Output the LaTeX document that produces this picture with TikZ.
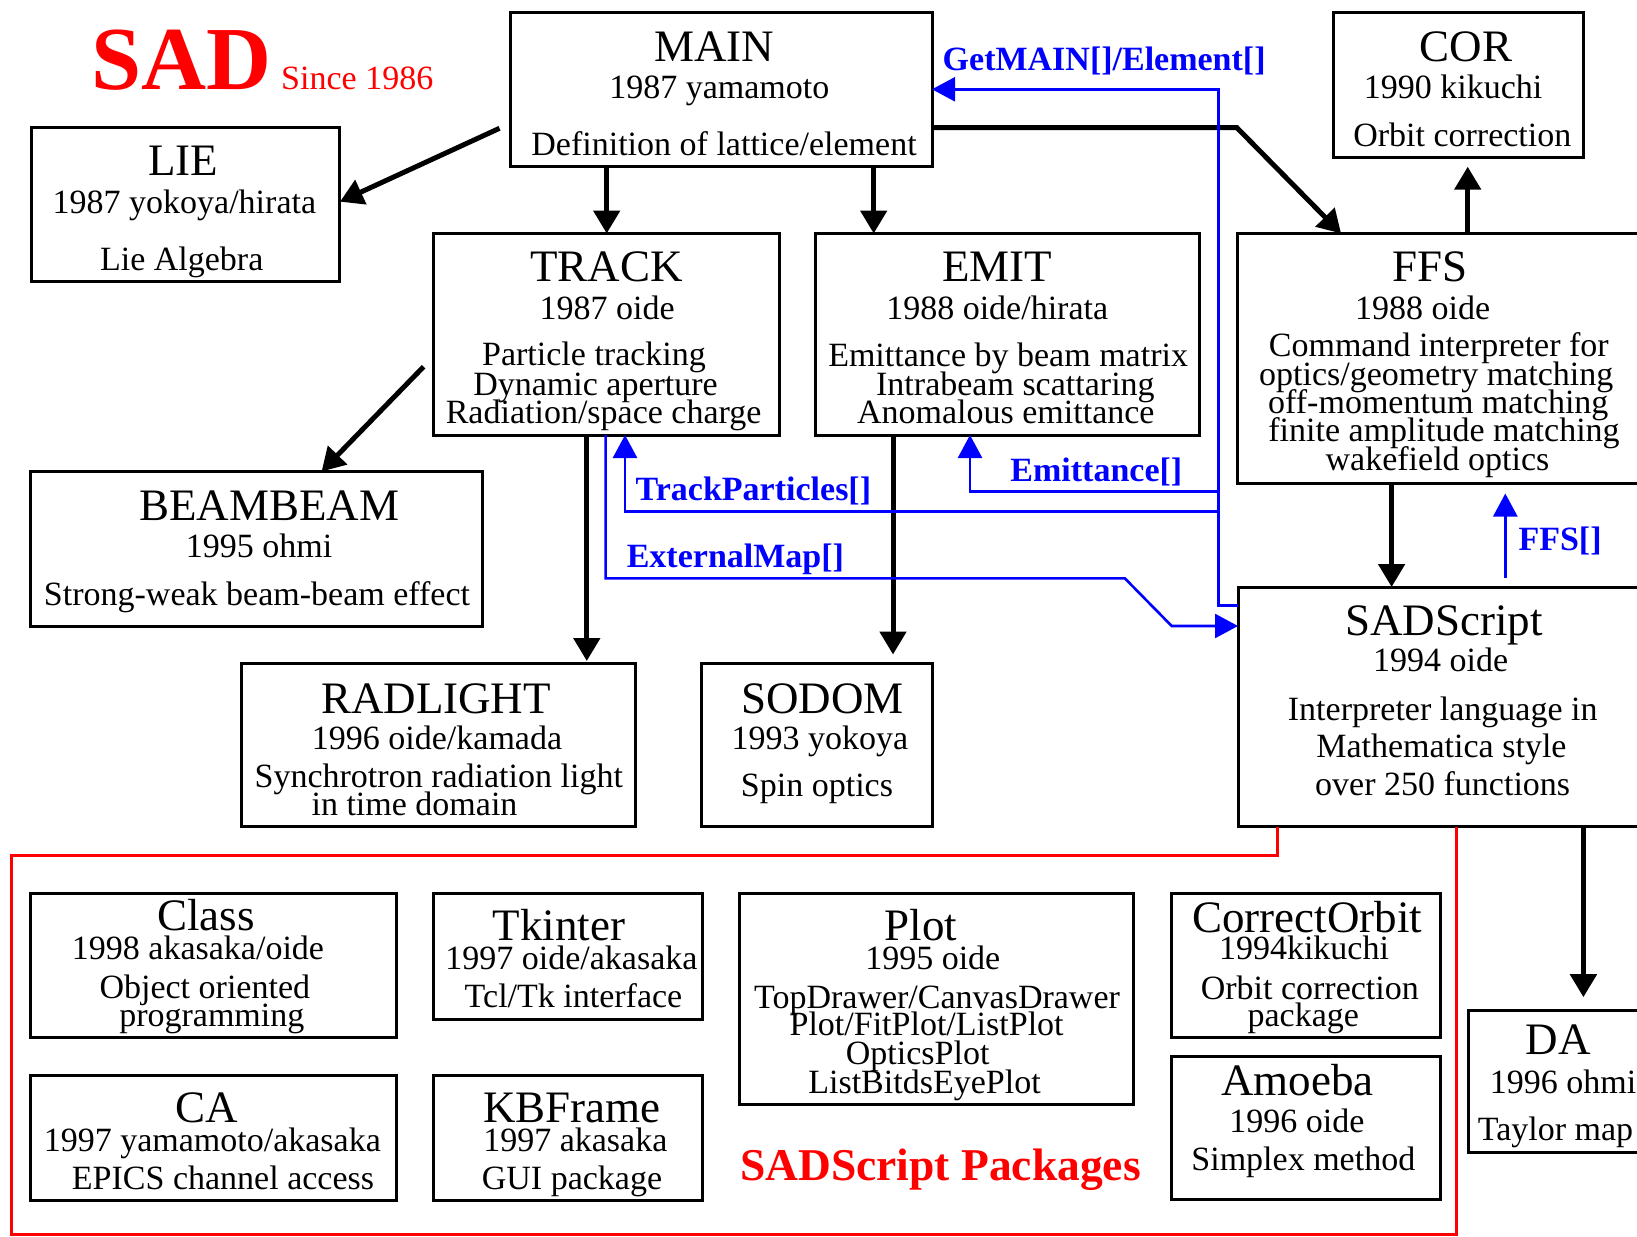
\documentclass[tikz,border=0pt]{standalone}
\usepackage{fontspec}
\setmainfont{Liberation Serif}
\usetikzlibrary{arrows.meta,calc}
\newcommand\mybox[5]{\node[box,minimum width={#4-#2},minimum height={#5-#3}] (#1) at (#2,#3) {};}
\begin{document}
\begin{tikzpicture}[x=1pt,y=-1pt,
  box/.style={draw,line width=3pt,inner sep=0pt,outer sep=0pt,anchor=north west},
  ttl/.style={anchor=base,inner sep=0pt,font=\fontsize{45}{50}\selectfont},
  txt/.style={anchor=base,inner sep=0pt,font=\fontsize{34}{38}\selectfont},
  txtw/.style={anchor=base west,inner sep=0pt,font=\fontsize{34}{38}\selectfont},
  arr/.style={line width=5pt,-{Triangle[width=26pt,length=23pt]}},
  barr/.style={blue,line width=2.6pt,-{Triangle[width=24pt,length=23pt]}},
  bline/.style={blue,line width=2.6pt},
  blbl/.style={anchor=base west,inner sep=0pt,text=blue,font=\bfseries\fontsize{34}{38}\selectfont},
  redline/.style={red,line width=3pt},
]
\useasboundingbox (0,0) rectangle (1637,1236);
\clip (0,0) rectangle (1637,1236);
\fill[white] (0,0) rectangle (1637,1236);

% title
\node[anchor=base west,inner sep=0pt,text=red,font=\bfseries\fontsize{90}{95}\selectfont] (sad) at (91.5,90) {SAD};
\node[anchor=base west,inner sep=0pt,text=red,font=\fontsize{34}{38}\selectfont] (since) at (281,90) {Since 1986};

% boxes
\mybox{MAIN}{510}{12.5}{932}{166}
\mybox{LIE}{31}{128}{339}{281.5}
\mybox{COR}{1333.5}{12.5}{1583.5}{157.5}
\mybox{TRACK}{433}{233.5}{779}{435}
\mybox{EMIT}{815}{233.5}{1199.5}{435}
\mybox{FFS}{1237.5}{233.5}{1660}{483.5}
\mybox{BEAMBEAM}{30.5}{471.5}{482}{626.5}
\mybox{SADScript}{1238}{587}{1660}{826.5}
\mybox{RADLIGHT}{241.5}{663}{635.5}{826.5}
\mybox{SODOM}{701}{663}{932}{826.5}
\mybox{Class}{30.5}{893}{396.5}{1037.5}
\mybox{Tkinter}{433}{893}{702.5}{1019}
\mybox{Plot}{739.5}{893}{1133}{1104}
\mybox{CorrectOrbit}{1171}{893}{1440}{1037.5}
\mybox{CA}{30.5}{1075}{396.5}{1200.5}
\mybox{KBFrame}{433}{1075}{702.5}{1200.5}
\mybox{Amoeba}{1171}{1056}{1440}{1199.5}
\mybox{DA}{1468}{1010}{1660}{1152.5}

% texts
\node[ttl] (mainA) at (714,61.7) {MAIN};
\node[txt] (mainB) at (719.3,99) {1987 yamamoto};
\node[txt] (mainC) at (724,155.7) {Definition of lattice/element};

\node[ttl] (lieA) at (183,175.7) {LIE};
\node[txt] (lieB) at (184.4,213) {1987 yokoya/hirata};
\node[txt] (lieC) at (181.7,270.7) {Lie Algebra};

\node[ttl] (corA) at (1466.2,61.7) {COR};
\node[txt] (corB) at (1453.1,99) {1990 kikuchi};
\node[txt] (corC) at (1462.3,146.7) {Orbit correction};

\node[ttl] (trA) at (606.7,281) {TRACK};
\node[txt] (trB) at (607.2,319) {1987 oide};
\node[txt] (trC) at (594,365.7) {Particle tracking};
\node[txt] (trD) at (595.5,395) {Dynamic aperture};
\node[txt] (trE) at (603.6,423.3) {Radiation/space charge};

\node[ttl] (emA) at (997.2,281) {EMIT};
\node[txt] (emB) at (997.2,319) {1988 oide/hirata};
\node[txt] (emC) at (1008.1,366.7) {Emittance by beam matrix};
\node[txt] (emD) at (1015.4,395) {Intrabeam scattaring};
\node[txt] (emE) at (1005.8,423) {Anomalous emittance};

\node[ttl] (ffA) at (1429.7,281) {FFS};
\node[txt] (ffB) at (1422.7,319) {1988 oide};
\node[txt] (ffC) at (1438.8,356.7) {Command interpreter for};
\node[txt] (ffD) at (1436.2,385) {optics/geometry matching};
\node[txt] (ffE) at (1438.3,413.3) {off-momentum matching};
\node[txt] (ffF) at (1444,441.7) {finite amplitude matching};
\node[txt] (ffG) at (1437.5,470) {wakefield optics};

\node[ttl] (bbA) at (269.3,520) {BEAMBEAM};
\node[txt] (bbB) at (259,557) {1995 ohmi};
\node[txt] (bbC) at (257,605) {Strong-weak beam-beam effect};

\node[ttl] (ssA) at (1444,635) {SADScript};
\node[txt] (ssB) at (1440.6,671.8) {1994 oide};
\node[txt] (ssC) at (1442.7,720) {Interpreter language in};
\node[txt] (ssD) at (1441.4,757.5) {Mathematica style};
\node[txt] (ssE) at (1442.7,795) {over 250 functions};

\node[ttl] (rlA) at (436,713.1) {RADLIGHT};
\node[txt] (rlB) at (437,749.7) {1996 oide/kamada};
\node[txt] (rlC) at (438.8,787) {Synchrotron radiation light};
\node[txt] (rlD) at (414.5,815.3) {in time domain};

\node[ttl] (soA) at (822.7,713.1) {SODOM};
\node[txt] (soB) at (820,749.7) {1993 yokoya};
\node[txt] (soC) at (817,796.8) {Spin optics};

\node[ttl] (clA) at (206,930.4) {Class};
\node[txt] (clB) at (198,959.9) {1998 akasaka/oide};
\node[txt] (clC) at (204.8,998) {Object oriented};
\node[txt] (clD) at (211.8,1026.7) {programming};

\node[ttl] (tkA) at (559,940.2) {Tkinter};
\node[txt] (tkB) at (571.4,969.7) {1997 oide/akasaka};
\node[txt] (tkC) at (573.5,1007) {Tcl/Tk interface};

\node[ttl] (plA) at (920.8,940.2) {Plot};
\node[txt] (plB) at (932.8,969.7) {1995 oide};
\node[txt] (plC) at (937,1008.2) {TopDrawer/CanvasDrawer};
\node[txt] (plD) at (926.6,1035.7) {Plot/FitPlot/ListPlot};
\node[txt] (plE) at (917.7,1064) {OpticsPlot};
\node[txt] (plF) at (924.5,1093.5) {ListBitdsEyePlot};

\node[ttl] (coA) at (1307.2,932.4) {CorrectOrbit};
\node[txt] (coB) at (1304,959.9) {1994kikuchi};
\node[txt] (coC) at (1309.8,999.2) {Orbit correction};
\node[txt] (coD) at (1303.3,1026.7) {package};

\node[ttl] (caA) at (206.6,1122.2) {CA};
\node[txt] (caB) at (212.3,1151.2) {1997 yamamoto/akasaka};
\node[txt] (caC) at (223,1189) {EPICS channel access};

\node[ttl] (kbA) at (572,1122.2) {KBFrame};
\node[txt] (kbB) at (575.3,1151.2) {1997 akasaka};
\node[txt] (kbC) at (572,1189) {GUI package};

\node[ttl] (amA) at (1297.3,1095.4) {Amoeba};
\node[txt] (amB) at (1296.8,1132.8) {1996 oide};
\node[txt] (amC) at (1303.3,1170.1) {Simplex method};

\node[ttl] (daA) at (1558,1054.2) {DA};
\node[txtw] (daB) at (1489.6,1093.5) {1996 ohmi};
\node[txtw] (daC) at (1477.6,1140.6) {Taylor map};

\node[anchor=base west,inner sep=0pt,text=red,font=\bfseries\fontsize{45.5}{50}\selectfont] (pkg) at (740,1180) {SADScript Packages};

% black connectors
\draw[arr] ($(MAIN.north west)+(-10.5,115.8)$) -- ($(LIE.north east)+(1,73.7)$);
\draw[arr] ($(MAIN.south west)+(96.7,0)$) -- ($(TRACK.north west)+(173.7,0)$);
\draw[arr] ($(MAIN.south west)+(363.7,0)$) -- ($(EMIT.north west)+(58.7,0)$);
\draw[arr] ($(MAIN.north east)+(0,115.2)$) -- ($(FFS.north west)+(-0.6,-105.8)$) -- ($(FFS.north west)+(103.6,0)$);
\draw[arr] ($(FFS.north west)+(230.2,0)$) -- ($(COR.south west)+(134.2,9.2)$);
\draw[arr] ($(TRACK.north west)+(-9.4,133.2)$) -- ($(BEAMBEAM.north west)+(291.1,0)$);
\draw[arr] ($(TRACK.south west)+(153.8,0)$) -- ($(RADLIGHT.north west)+(345.3,-2)$);
\draw[arr] ($(EMIT.south west)+(78,0)$) -- ($(SODOM.north west)+(192,-8.5)$);
\draw[arr] ($(FFS.south west)+(154.1,0)$) -- ($(SADScript.north west)+(153.6,0)$);
\draw[arr] ($(SADScript.south west)+(345.4,0)$) -- ($(DA.north west)+(115.4,-12.8)$);

% blue connectors
\coordinate (tb) at (1218.6,605.5);
\coordinate (tt) at (1218.6,89.3);
\draw[barr] ($(SADScript.north west)+(0,18.5)$) -- (tb) -- (tt) -- ($(MAIN.north east)+(0,76.8)$);
\draw[barr] (1218.6,491.7) -- (970,491.7) -- ($(EMIT.south west)+(155,0)$);
\draw[barr] (1218.6,511.7) -- (625,511.7) -- ($(TRACK.south west)+(192,0)$);
\draw[barr] ($(TRACK.south west)+(172.6,0)$) -- (605.6,578.3) -- (1124.8,578.3) -- (1171.7,626) -- ($(SADScript.north west)+(0,39)$);
\draw[barr] ($(SADScript.north west)+(267.3,-8.7)$) -- ($(FFS.south west)+(267.8,10)$);

\node[blbl] (lgm) at (942.5,70.7) {GetMAIN[]/Element[]};
\node[blbl] (lem) at (1010.2,481.7) {Emittance[]};
\node[blbl] (ltp) at (635.5,500.5) {TrackParticles[]};
\node[blbl] (lex) at (626.6,567) {ExternalMap[]};
\node[blbl] (lff) at (1518.3,550) {FFS[]};

% red frame
\draw[redline] ($(SADScript.south west)+(39,0)$) -- (1277,855) -- (11.2,855) -- (11.2,1234.3) -- (1456.8,1234.3) -- ($(SADScript.south west)+(218.8,0)$);
\end{tikzpicture}
\end{document}
